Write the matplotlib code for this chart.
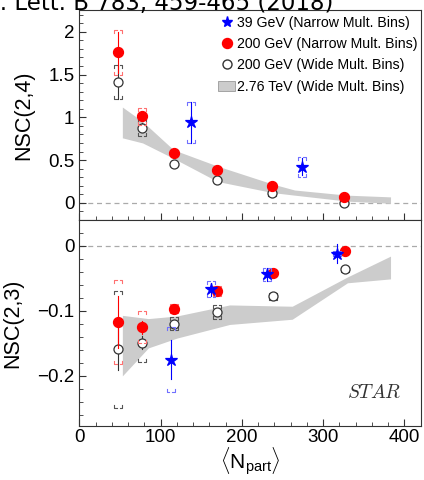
import matplotlib
matplotlib.use("Agg")
import matplotlib.pyplot as plt
from matplotlib.ticker import MultipleLocator
from matplotlib.patches import Patch
from matplotlib.lines import Line2D

plt.rcParams['font.family'] = ['Liberation Sans', 'DejaVu Sans']
plt.rcParams['mathtext.fontset'] = 'custom'
plt.rcParams['mathtext.rm'] = 'Liberation Sans'
plt.rcParams['mathtext.it'] = 'Liberation Sans:italic'

# ---- NSC(2,4) ----
n24_red = [48, 77.6, 117, 169, 237.6, 326]
y24_red = [1.76, 1.01, 0.58, 0.38, 0.20, 0.07]
st24_red = [0.24, 0.05, 0.03, 0.02, 0.015, 0.01]
sy24_red = [0.26, 0.10, 0.02, 0.015, 0.01, 0.01]

n24_open = [48, 77.6, 117, 169, 237.6, 326]
y24_open = [1.41, 0.88, 0.45, 0.27, 0.11, -0.005]
st24_open = [0.20, 0.05, 0.02, 0.015, 0.01, 0.01]
sy24_open = [0.20, 0.095, 0.02, 0.015, 0.01, 0.01]

n24_blue = [137.5, 273.7]
y24_blue = [0.94, 0.42]
st24_blue = [0.24, 0.10]
sy24_blue = [0.24, 0.12]

band24_n = [53, 78, 116, 170, 238, 265, 330, 383]
band24_hi = [1.12, 0.95, 0.62, 0.43, 0.22, 0.15, 0.09, 0.07]
band24_lo = [0.76, 0.70, 0.52, 0.25, 0.12, 0.09, 0.02, -0.005]

# ---- NSC(2,3) ----
n23_red = [48, 77.6, 117, 170, 238, 327]
y23_red = [-0.117, -0.125, -0.097, -0.070, -0.042, -0.008]
st23_red = [0.040, 0.01, 0.005, 0.005, 0.004, 0.003]
sy23_red = [0.065, 0.025, 0.007, 0.008, 0.004, 0.003]

n23_open = [48, 77.6, 117, 170, 238, 327]
y23_open = [-0.159, -0.149, -0.120, -0.102, -0.078, -0.036]
st23_open = [0.032, 0.01, 0.006, 0.005, 0.004, 0.003]
sy23_open = [0.090, 0.029, 0.010, 0.011, 0.006, 0.004]

n23_blue = [112.5, 162.5, 230.6, 317.5]
y23_blue = [-0.175, -0.067, -0.0435, -0.012]
st23_blue = [0.03, 0.01, 0.01, 0.015]
sy23_blue = [0.05, 0.012, 0.01, 0.004]

band23_n = [53, 85, 120, 185, 262, 330, 383]
band23_hi = [-0.107, -0.112, -0.108, -0.091, -0.093, -0.048, -0.016]
band23_lo = [-0.200, -0.157, -0.142, -0.121, -0.113, -0.057, -0.051]

legend_labels = ['39 GeV (Narrow Mult. Bins)', '200 GeV (Narrow Mult. Bins)',
                 '200 GeV (Wide Mult. Bins)', '2.76 TeV (Wide Mult. Bins)']


def points(ax, n, y, st, sy, color, syscolor, marker, ms, mfc, z):
    # pixel sizes converted to data units
    x0, x1 = ax.get_xlim()
    y0, y1 = ax.get_ylim()
    bb = ax.get_window_extent()
    px_x = (x1 - x0) / bb.width
    px_y = (y1 - y0) / bb.height
    dx, gap, leg = 4 * px_x, 1.5 * px_x, 3 * px_y
    for xi, yi, si, ei in zip(n, y, st, sy):
        ax.plot([xi, xi], [yi - si, yi + si], color=color, lw=0.8, zorder=z)
        for yb, sgn in ((yi + ei, -1), (yi - ei, 1)):
            for side in (-1, 1):
                xa = xi + side * dx
                xb = xi + side * gap
                ax.plot([xa, xa, xb], [yb + sgn * leg, yb, yb],
                        color=syscolor, lw=0.8, zorder=z)
    ax.plot(n, y, ls='none', marker=marker, ms=ms, mfc=mfc, mec=color,
            mew=0.9, zorder=z + 1)


fig = plt.figure(figsize=(4.24, 4.8), dpi=100)
ax1 = fig.add_axes([0.187, 0.5417, 0.805, 0.4375])
ax2 = fig.add_axes([0.187, 0.1125, 0.805, 0.4292])

for ax in (ax1, ax2):
    ax.set_xlim(0, 420)
    ax.axhline(0, color='#aaaaaa', ls=(0, (4, 3)), lw=0.9, zorder=1)
    ax.xaxis.set_major_locator(MultipleLocator(100))
    ax.xaxis.set_minor_locator(MultipleLocator(20))
    ax.tick_params(which='both', direction='in', top=False, right=False,
                   labelsize=13.5, color='#333333')
    ax.tick_params(which='major', length=5)
    ax.tick_params(which='minor', length=3)
    for sp in ax.spines.values():
        sp.set_linewidth(0.8)
        sp.set_color('#333333')

ax1.set_ylim(-0.2, 2.254)
ax2.set_ylim(-0.277, 0.0395)

ax1.fill_between(band24_n, band24_lo, band24_hi, color='#cccccc', lw=0, zorder=2)
points(ax1, n24_open, y24_open, st24_open, sy24_open, '#333333', '#555555', 'o', 6.5, 'white', 3)
points(ax1, n24_red, y24_red, st24_red, sy24_red, 'red', '#ff7070', 'o', 7.2, 'red', 5)
points(ax1, n24_blue, y24_blue, st24_blue, sy24_blue, 'blue', '#7070ff', '*', 9, 'blue', 7)
ax1.yaxis.set_minor_locator(MultipleLocator(0.1))
ax1.set_yticks([0, 0.5, 1, 1.5, 2])
ax1.set_yticklabels(['0', '0.5', '1', '1.5', '2'])
ax1.tick_params(axis='x', labelbottom=False)
ax1.set_ylabel('NSC(2,4)', fontsize=15.5, labelpad=10)

ax2.fill_between(band23_n, band23_lo, band23_hi, color='#cccccc', lw=0, zorder=2)
points(ax2, n23_open, y23_open, st23_open, sy23_open, '#333333', '#555555', 'o', 6.5, 'white', 3)
points(ax2, n23_red, y23_red, st23_red, sy23_red, 'red', '#ff7070', 'o', 7.2, 'red', 5)
points(ax2, n23_blue, y23_blue, st23_blue, sy23_blue, 'blue', '#7070ff', '*', 9, 'blue', 7)
ax2.yaxis.set_minor_locator(MultipleLocator(0.02))
ax2.set_yticks([-0.2, -0.1, 0])
ax2.set_yticklabels(['\u22120.2', '\u22120.1', '0'])
ax2.set_ylabel('NSC(2,3)', fontsize=15.5, labelpad=10)
ax2.set_xticks([0, 100, 200, 300, 400])
ax2.tick_params(axis='x', pad=2)
ax2.set_xlabel(r'$\langle\mathrm{N}_{\mathrm{part}}\rangle$', fontsize=15, labelpad=-0.5)
ax2.text(0.863, 0.16, r'$STAR$', transform=ax2.transAxes, ha='center', va='center',
         fontsize=14, math_fontfamily='cm', color='#333333')

handles = [Line2D([], [], ls='none', marker='*', ms=8, color='blue'),
           Line2D([], [], ls='none', marker='o', ms=7.2, color='red'),
           Line2D([], [], ls='none', marker='o', ms=6.5, mfc='white', mec='#333333'),
           Patch(facecolor='#cccccc', edgecolor='#999999', lw=0.6)]
fig.legend(handles, legend_labels, loc='upper left', bbox_to_anchor=(218 / 424, 1 - 15.5 / 480),
           frameon=False, fontsize=10.2, handlelength=1.2, handletextpad=0.15,
           labelspacing=0.52, borderpad=0, borderaxespad=0)

fig.text(333 / 424, 1 - 10 / 480, 'Phys. Lett. B 783, 459-465 (2018)', ha='right',
         va='baseline', fontsize=16.5, family='DejaVu Sans', zorder=10)

fig.savefig('out.png', dpi=100)
